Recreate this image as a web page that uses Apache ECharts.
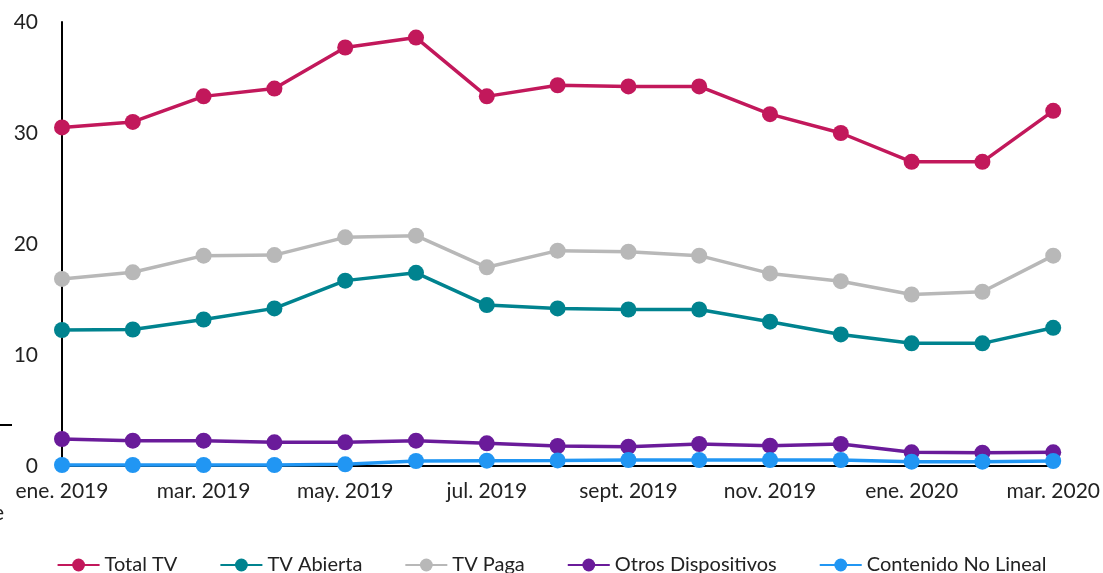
<!DOCTYPE html>
<html>
<head>
<meta charset="utf-8">
<script src="https://cdn.jsdelivr.net/npm/echarts@6/dist/echarts.min.js"></script>
<style>
  html, body { margin: 0; padding: 0; background: #fff; }
  #chart { width: 1103px; height: 573px; }
</style>
</head>
<body>
<div id="chart"></div>
<script>
// meses (eje x)
var months = ['ene. 2019', 'feb. 2019', 'mar. 2019', 'abr. 2019', 'may. 2019', 'jun. 2019',
  'jul. 2019', 'ago. 2019', 'sept. 2019', 'oct. 2019', 'nov. 2019', 'dic. 2019',
  'ene. 2020', 'feb. 2020', 'mar. 2020'];

var totalTV = [30.5, 31.0, 33.3, 34.0, 37.7, 38.6, 33.3, 34.3, 34.2, 34.2, 31.7, 30.0, 27.4, 27.4, 32.0];
var tvAbierta = [12.25, 12.3, 13.2, 14.2, 16.7, 17.4, 14.5, 14.2, 14.1, 14.1, 13.0, 11.85, 11.05, 11.05, 12.45];
var tvPaga = [16.85, 17.45, 18.95, 19.0, 20.6, 20.75, 17.9, 19.4, 19.3, 18.95, 17.35, 16.65, 15.45, 15.7, 18.95];
var otros = [2.43, 2.28, 2.28, 2.13, 2.13, 2.28, 2.04, 1.8, 1.74, 1.98, 1.83, 1.98, 1.23, 1.2, 1.23];
var noLineal = [0.09, 0.09, 0.09, 0.09, 0.15, 0.45, 0.48, 0.5, 0.54, 0.54, 0.54, 0.54, 0.39, 0.39, 0.45];

var font = 'Lato, "Open Sans", sans-serif';

function serie(name, data, color) {
  return {
    name: name,
    type: 'line',
    data: data,
    symbol: 'circle',
    symbolSize: 16,
    itemStyle: { color: color },
    lineStyle: { color: color, width: 3.5 },
    emphasis: { disabled: true }
  };
}

var chart = echarts.init(document.getElementById('chart'));
chart.setOption({
  animation: false,
  textStyle: { fontFamily: font },
  grid: { left: 62, right: 48, top: 22, bottom: 107, containLabel: false },
  legend: {
    top: 550,
    left: 'center',
    itemWidth: 42,
    itemHeight: 16,
    itemGap: 42,
    textStyle: { fontFamily: font, fontSize: 20, color: '#222' },
    data: ['Total TV', 'TV Abierta', 'TV Paga', 'Otros Dispositivos', 'Contenido No Lineal']
  },
  xAxis: {
    type: 'category',
    data: months,
    boundaryGap: false,
    axisLine: { lineStyle: { color: '#000', width: 2 } },
    axisTick: { show: false },
    axisLabel: { interval: 1, color: '#222', fontSize: 21, margin: 15, fontFamily: font }
  },
  yAxis: {
    type: 'value',
    min: 0,
    max: 40,
    interval: 10,
    splitLine: { show: false },
    axisLine: { show: true, lineStyle: { color: '#000', width: 2 } },
    axisTick: { show: false },
    axisLabel: { color: '#222', fontSize: 21, margin: 24, fontFamily: font }
  },
  graphic: [
    { type: 'line', shape: { x1: 0, y1: 425, x2: 12, y2: 425 }, style: { stroke: '#000', lineWidth: 2 } },
    { type: 'text', left: -7, top: 503, style: { text: 'e', fontSize: 21, fontFamily: font, fill: '#222' } }
  ],
  series: [
    serie('Total TV', totalTV, '#c2185b'),
    serie('TV Abierta', tvAbierta, '#00838f'),
    serie('TV Paga', tvPaga, '#b8b8b8'),
    serie('Otros Dispositivos', otros, '#6a1b9a'),
    serie('Contenido No Lineal', noLineal, '#2196f3')
  ]
});
</script>
</body>
</html>
